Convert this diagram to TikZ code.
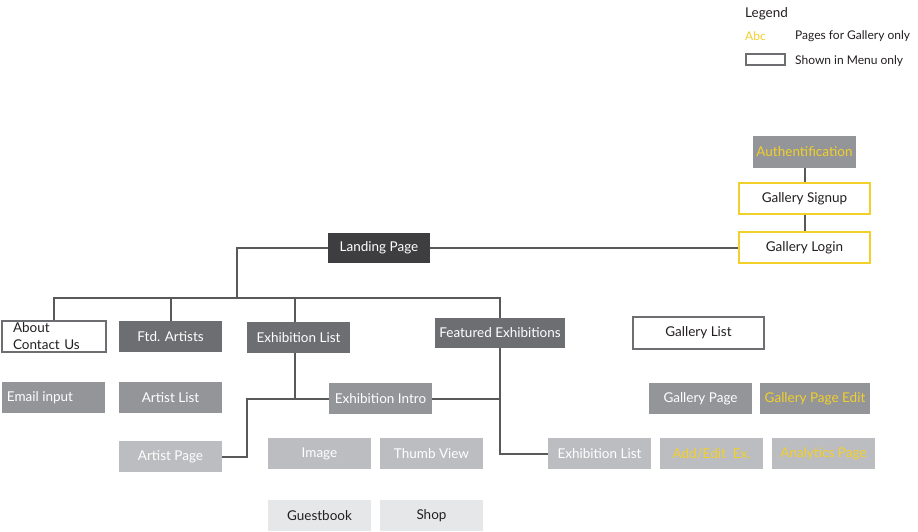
\documentclass[tikz,border=0pt]{standalone}
\usepackage{fontspec}
\setmainfont{Lato}
\definecolor{ylw}{HTML}{F2D02A}
\definecolor{dark}{HTML}{3E3E40}
\definecolor{mid}{HTML}{6D6E71}
\definecolor{gry}{HTML}{939598}
\definecolor{lgt}{HTML}{BCBDC0}
\definecolor{pale}{HTML}{E6E7E8}
\definecolor{ln}{HTML}{58595B}
\definecolor{txt}{HTML}{231F20}
\tikzset{
  box/.style={rectangle, minimum width=103pt, minimum height=31pt, inner sep=2pt, font=\fontsize{13.5}{15}\selectfont},
  darkbox/.style={box, fill=dark, text=white},
  midbox/.style={box, fill=mid, text=white},
  grybox/.style={box, fill=gry, text=white},
  lgtbox/.style={box, fill=lgt, text=white},
  palebox/.style={box, fill=pale, text=txt},
  menubox/.style={box, fill=white, draw=mid, line width=1.5pt, text=txt},
  galbox/.style={box, fill=white, draw=ylw, line width=1.5pt, text=txt},
  conn/.style={draw=ln, line width=2pt},
  legtext/.style={font=\fontsize{12}{14}\selectfont, text=txt, inner sep=0pt, anchor=west}
}
\begin{document}
\begin{tikzpicture}[x=1pt,y=-1pt]
\useasboundingbox[fill=white] (0,0) rectangle (918,532);
% legend
\node[legtext, font=\fontsize{13.5}{15}\selectfont] (leg) at (745,14) {Legend};
\node[legtext, text=ylw] (abc) at (745,36) {Abc};
\node[legtext] (legy) at (795,36) {Pages for Gallery only};
\node[draw=mid, line width=1.5pt, minimum width=39pt, minimum height=11pt, inner sep=0pt, anchor=west] (legbox) at (745,59.5) {};
\node[legtext] (legm) at (795,61) {Shown in Menu only};
% nodes
\node[grybox, text=ylw] (auth) at (804.5,152) {Authentification};
\node[galbox, minimum width=131pt] (signup) at (804.5,198.5) {Gallery Signup};
\node[galbox, minimum width=131pt] (login) at (804.5,247.5) {Gallery Login};
\node[darkbox, minimum width=102pt, minimum height=30pt] (landing) at (379,247.5) {Landing Page};
\node[menubox, minimum width=104pt, align=left, text width=82pt, font=\fontsize{13.5}{17}\selectfont, inner sep=0pt] (about) at (54,336.5) {About\\Contact Us};
\node[midbox] (ftd) at (170.5,336.5) {Ftd. Artists};
\node[midbox] (exlist) at (298.5,337.5) {Exhibition List};
\node[midbox, minimum width=130pt, minimum height=30pt] (featured) at (500,333) {Featured Exhibitions};
\node[menubox, minimum width=131pt, minimum height=32pt] (gallist) at (698.5,333) {Gallery List};
\node[grybox] (email) at (53.5,397.5) {\hspace*{-27pt}Email input};
\node[grybox] (artistlist) at (170.5,397.5) {Artist List};
\node[grybox] (exintro) at (380.5,398.5) {Exhibition Intro};
\node[lgtbox] (artistpage) at (170.5,456.5) {Artist Page};
\node[lgtbox] (image) at (319.5,453.5) {Image};
\node[lgtbox] (thumb) at (431.5,453.5) {Thumb View};
\node[palebox] (guest) at (319.5,515.5) {Guestbook};
\node[palebox] (shop) at (431.5,515.5) {Shop};
\node[grybox] (galpage) at (700.5,398.5) {Gallery Page};
\node[grybox, text=ylw, minimum width=110pt] (galedit) at (815,398.5) {Gallery Page Edit};
\node[lgtbox] (exlist2) at (599.5,453.5) {Exhibition List};
\node[lgtbox, text=ylw] (addedit) at (711.5,453.5) {Add/Edit\ \ Ex.};
\node[lgtbox, text=ylw] (analytics) at (823.5,453.5) {Analytics Page};
% junctions
\coordinate (j1) at (237,298);
\coordinate (j2) at (247,398.5);
\coordinate (j3) at (295,353);
% connectors
\draw[conn] (auth.south) -- (signup.north);
\draw[conn] (signup.south) -- (login.north);
\draw[conn] (landing.east) -- (login.west);
\draw[conn] (landing.west) -| (j1);
\draw[conn] (about.north) -- (about.north |- j1) -- (featured.north |- j1) -- (featured.north);
\draw[conn] (ftd.north) -- (ftd.north |- j1);
\draw[conn] (j3 |- exlist.north) -- (j3 |- j1);
\draw[conn] (j3) -- (j3 |- exintro.west);
\draw[conn] (artistpage.east) -| (j2) -- (exintro.west);
\draw[conn] (exintro.east) -- (featured.south |- exintro.east);
\draw[conn] (featured.south) |- (exlist2.west);
\end{tikzpicture}
\end{document}
